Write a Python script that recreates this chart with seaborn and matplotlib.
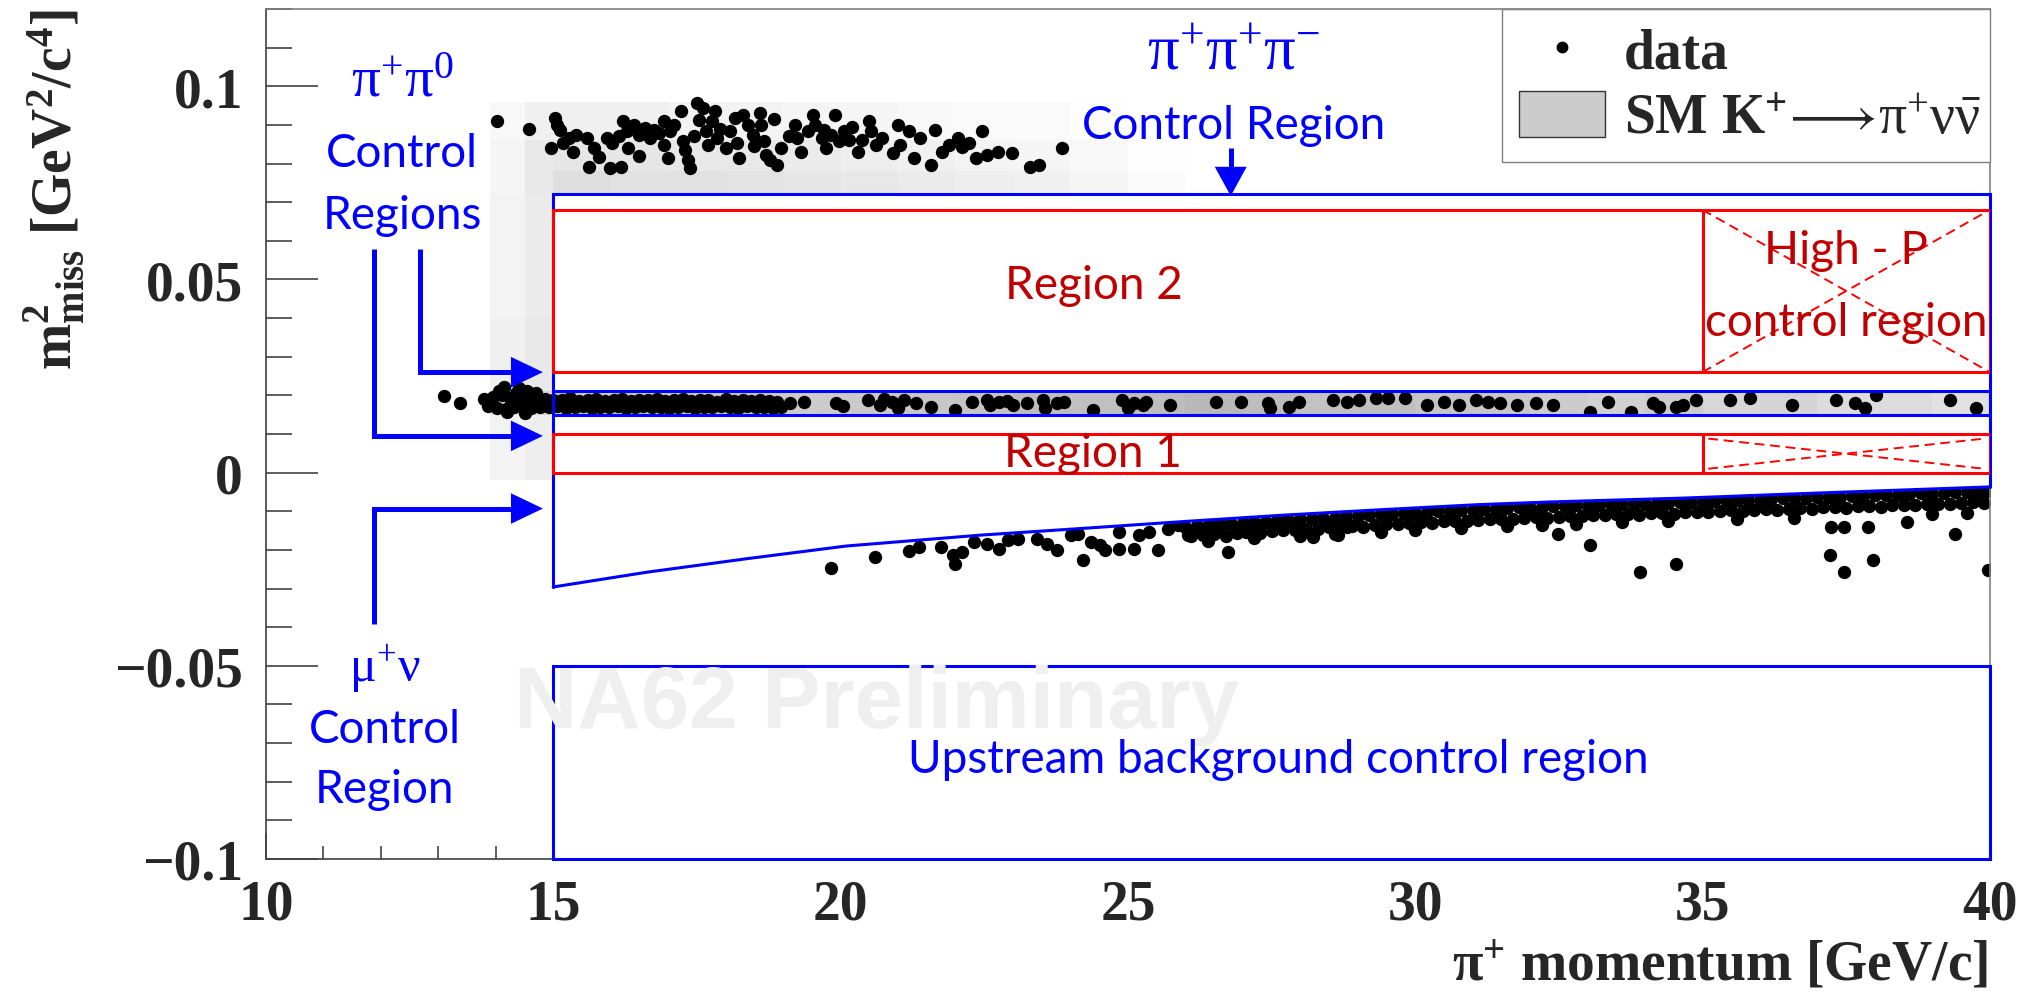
import numpy as np
import pandas as pd
import matplotlib
matplotlib.use("Agg")
import matplotlib.pyplot as plt
import seaborn as sns
from matplotlib.lines import Line2D
from matplotlib.patches import Patch, Rectangle
from matplotlib.font_manager import FontProperties
from matplotlib.ticker import MultipleLocator

# ------------------------------------------------------------------ data
# K+ -> pi+ pi+ pi- like events (p [GeV/c], m2miss [GeV^2/c^4])
ppp_events = np.array([
    [14.02, 0.0909], [14.58, 0.0890], [15.03, 0.0919], [15.07, 0.0900], [15.11, 0.0887],
    [14.96, 0.0841], [15.17, 0.0852], [15.28, 0.0865], [15.40, 0.0874], [15.59, 0.0865],
    [15.71, 0.0839], [15.79, 0.0818], [15.63, 0.0792], [15.98, 0.0788], [16.18, 0.0792],
    [15.94, 0.0865], [16.02, 0.0852], [16.14, 0.0870], [16.22, 0.0909], [16.29, 0.0883],
    [16.41, 0.0900], [16.49, 0.0874], [16.60, 0.0891], [16.68, 0.0865], [16.76, 0.0887],
    [16.84, 0.0878], [16.92, 0.0909], [16.92, 0.0848], [17.03, 0.0883], [17.11, 0.0900],
    [17.23, 0.0935], [17.26, 0.0857], [17.30, 0.0835], [17.34, 0.0809], [17.38, 0.0788],
    [17.50, 0.0956], [17.54, 0.0913], [17.61, 0.0943], [17.65, 0.0883], [17.69, 0.0848],
    [17.77, 0.0909], [17.81, 0.0935], [17.85, 0.0865], [18.00, 0.0839], [18.08, 0.0883],
    [18.16, 0.0917], [18.20, 0.0852], [18.24, 0.0814], [18.31, 0.0926], [18.39, 0.0900],
    [18.47, 0.0874], [18.59, 0.0930], [18.62, 0.0900], [18.66, 0.0857], [18.70, 0.0822],
    [18.78, 0.0809], [18.90, 0.0796], [18.97, 0.0839], [19.21, 0.0900], [19.25, 0.0865],
    [19.32, 0.0831], [19.44, 0.0883], [19.52, 0.0926], [19.56, 0.0900], [19.67, 0.0865],
    [19.71, 0.0887], [19.83, 0.0874], [19.91, 0.0926], [19.98, 0.0857], [20.06, 0.0883],
    [20.14, 0.0861], [20.30, 0.0831], [20.37, 0.0861], [20.49, 0.0909], [20.53, 0.0883],
    [20.61, 0.0848], [20.72, 0.0865], [20.92, 0.0827], [21.03, 0.0848], [21.19, 0.0883],
    [21.27, 0.0814], [21.38, 0.0865], [21.58, 0.0796], [21.65, 0.0887], [21.77, 0.0831],
    [21.89, 0.0848], [22.04, 0.0865], [22.12, 0.0844], [22.24, 0.0852], [22.35, 0.0814],
    [22.47, 0.0883], [22.55, 0.0822], [22.74, 0.0831], [22.98, 0.0827], [23.30, 0.0790],
    [23.45, 0.0796], [23.85, 0.0840], [16.50, 0.0820], [17.00, 0.0815], [17.90, 0.0890],
    [18.50, 0.0845], [19.10, 0.0870], [16.30, 0.0840], [17.45, 0.0870], [18.85, 0.0915],
    [20.20, 0.0895], [21.00, 0.0900], [15.35, 0.0830], [19.75, 0.0840],
])

# K+ -> pi+ pi0 like events: isolated / outlying ones
pp0_outliers = np.array([
    [13.10, 0.0197], [13.38, 0.0179], [14.05, 0.0210], [14.15, 0.0222], [14.35, 0.0207],
    [14.40, 0.0218], [14.55, 0.0212], [14.70, 0.0205], [14.20, 0.0158], [14.50, 0.0155],
])
# K+ -> pi+ pi0 dense band, upper row
pp0_dense_top = np.array([
    [13.80, 0.0190], [13.95, 0.0195], [14.10, 0.0200], [14.25, 0.0192], [14.40, 0.0188],
    [14.55, 0.0195], [14.70, 0.0186], [14.85, 0.0190], [15.00, 0.0189], [15.15, 0.0187],
    [15.30, 0.0192], [15.45, 0.0186], [15.60, 0.0189], [15.75, 0.0191], [15.90, 0.0185],
    [16.05, 0.0188], [16.20, 0.0190], [16.35, 0.0186], [16.50, 0.0189], [16.65, 0.0187],
    [16.80, 0.0191], [16.95, 0.0185], [17.10, 0.0188], [17.25, 0.0190], [17.40, 0.0186],
    [17.55, 0.0189], [17.70, 0.0187], [17.85, 0.0184], [18.00, 0.0190], [18.15, 0.0186],
    [18.30, 0.0188], [18.45, 0.0185], [18.60, 0.0189], [18.75, 0.0186], [18.90, 0.0184],
])
# K+ -> pi+ pi0 dense band, lower row
pp0_dense_low = np.array([
    [13.87, 0.0172], [14.02, 0.0168], [14.17, 0.0165], [14.32, 0.0170], [14.47, 0.0174],
    [14.62, 0.0166], [14.77, 0.0171], [14.92, 0.0169], [15.07, 0.0172], [15.22, 0.0168],
    [15.37, 0.0170], [15.52, 0.0173], [15.67, 0.0167], [15.82, 0.0171], [15.97, 0.0169],
    [16.12, 0.0172], [16.27, 0.0168], [16.42, 0.0170], [16.57, 0.0173], [16.72, 0.0169],
    [16.87, 0.0171], [17.02, 0.0167], [17.17, 0.0170], [17.32, 0.0172], [17.47, 0.0168],
    [17.62, 0.0171], [17.77, 0.0169], [17.92, 0.0173], [18.07, 0.0170], [18.22, 0.0167],
    [18.37, 0.0172], [18.52, 0.0169], [18.67, 0.0171], [18.82, 0.0168], [18.97, 0.0170],
])
# K+ -> pi+ pi0 band, sparse part
pp0_sparse = np.array([
    [19.12, 0.0180], [19.37, 0.0183], [19.92, 0.0179], [20.04, 0.0172], [20.47, 0.0187],
    [20.68, 0.0174], [20.75, 0.0190], [20.89, 0.0183], [21.00, 0.0168], [21.10, 0.0187],
    [21.31, 0.0179], [21.57, 0.0170], [21.99, 0.0162], [22.28, 0.0183], [22.54, 0.0187],
    [22.60, 0.0176], [22.75, 0.0183], [22.89, 0.0186], [23.00, 0.0174], [23.25, 0.0179],
    [23.52, 0.0188], [23.55, 0.0166], [23.76, 0.0179], [23.89, 0.0183], [24.39, 0.0162],
    [24.90, 0.0187], [25.00, 0.0168], [25.11, 0.0179], [25.27, 0.0176], [25.32, 0.0183],
    [25.74, 0.0174], [26.54, 0.0183], [26.96, 0.0183], [27.43, 0.0179], [27.47, 0.0166],
    [27.81, 0.0170], [27.97, 0.0183], [28.57, 0.0187], [28.82, 0.0183], [29.03, 0.0187],
    [29.32, 0.0192], [29.53, 0.0192], [29.83, 0.0192], [30.21, 0.0174], [30.50, 0.0183],
    [30.76, 0.0174], [31.05, 0.0187], [31.26, 0.0183], [31.47, 0.0179], [31.77, 0.0174],
    [32.11, 0.0179], [32.40, 0.0174], [33.04, 0.0157], [33.36, 0.0183], [33.76, 0.0157],
    [34.14, 0.0179], [34.25, 0.0170], [34.54, 0.0170], [34.66, 0.0174], [34.89, 0.0187],
    [35.47, 0.0187], [35.82, 0.0192], [36.55, 0.0174], [37.33, 0.0187], [37.65, 0.0179],
    [37.82, 0.0166], [38.02, 0.0200], [39.30, 0.0187], [39.76, 0.0166],
])

# K+ -> mu+ nu like events: sparse part at low momentum and outliers
mnu_sparse = np.array([
    [19.84, -0.0247], [20.60, -0.0219], [21.19, -0.0204], [21.36, -0.0193], [21.74, -0.0193],
    [21.95, -0.0214], [21.99, -0.0236], [22.11, -0.0206], [22.33, -0.0180], [22.54, -0.0184],
    [22.75, -0.0197], [22.92, -0.0175], [23.08, -0.0171], [23.42, -0.0171], [23.59, -0.0184],
    [23.76, -0.0201], [24.01, -0.0162], [24.14, -0.0158], [24.22, -0.0227], [24.35, -0.0180],
    [24.52, -0.0188], [24.60, -0.0201], [24.85, -0.0197], [24.85, -0.0154], [25.11, -0.0197],
    [25.19, -0.0162], [25.36, -0.0154], [25.53, -0.0201], [25.70, -0.0145], [25.87, -0.0136],
    [26.04, -0.0162], [26.29, -0.0154], [26.46, -0.0136], [26.63, -0.0141], [26.75, -0.0206],
    [26.88, -0.0145], [27.05, -0.0154], [27.30, -0.0136], [27.55, -0.0145], [27.72, -0.0128],
    [27.97, -0.0136], [28.23, -0.0167], [28.48, -0.0136], [28.65, -0.0162], [28.82, -0.0141],
    [32.49, -0.0158], [33.04, -0.0188], [33.91, -0.0257], [34.54, -0.0236], [37.21, -0.0214],
    [37.47, -0.0257], [37.97, -0.0227], [39.39, -0.0158], [39.97, -0.0253],
])
# K+ -> mu+ nu dense band, upper row (just below the kinematic limit)
mnu_dense_top = np.array([
    [26.0, -0.0140], [26.2, -0.0137], [26.4, -0.0138], [26.6, -0.0134], [26.8, -0.0133],
    [27.0, -0.0131], [27.2, -0.0128], [27.4, -0.0129], [27.6, -0.0125], [27.8, -0.0124],
    [28.0, -0.0121], [28.2, -0.0120], [28.4, -0.0118], [28.6, -0.0117], [28.8, -0.0113],
    [29.0, -0.0112], [29.2, -0.0111], [29.4, -0.0108], [29.6, -0.0107], [29.8, -0.0104],
    [30.0, -0.0104], [30.2, -0.0102], [30.4, -0.0099], [30.6, -0.0099], [30.8, -0.0096],
    [31.0, -0.0097], [31.2, -0.0094], [31.4, -0.0093], [31.6, -0.0092], [31.8, -0.0090],
    [32.0, -0.0091], [32.2, -0.0088], [32.4, -0.0087], [32.6, -0.0086], [32.8, -0.0085],
    [33.0, -0.0086], [33.2, -0.0083], [33.4, -0.0082], [33.6, -0.0081], [33.8, -0.0082],
    [34.0, -0.0080], [34.2, -0.0078], [34.4, -0.0079], [34.6, -0.0076], [34.8, -0.0075],
    [35.0, -0.0077], [35.2, -0.0074], [35.4, -0.0072], [35.6, -0.0071], [35.8, -0.0072],
    [36.0, -0.0070], [36.2, -0.0068], [36.4, -0.0067], [36.6, -0.0066], [36.8, -0.0067],
    [37.0, -0.0064], [37.2, -0.0063], [37.4, -0.0062], [37.6, -0.0060], [37.8, -0.0061],
    [38.0, -0.0059], [38.2, -0.0057], [38.4, -0.0057], [38.6, -0.0055], [38.8, -0.0054],
    [39.0, -0.0055], [39.2, -0.0052], [39.4, -0.0051], [39.6, -0.0050], [39.8, -0.0049],
    [39.95, -0.0048],
])
# K+ -> mu+ nu dense band, lower row
mnu_dense_low = np.array([
    [26.1, -0.0165], [26.3, -0.0162], [26.5, -0.0160], [26.7, -0.0163], [26.9, -0.0157],
    [27.1, -0.0154], [27.3, -0.0156], [27.5, -0.0151], [27.7, -0.0149], [27.9, -0.0148],
    [28.1, -0.0145], [28.3, -0.0147], [28.5, -0.0142], [28.7, -0.0141], [28.9, -0.0138],
    [29.1, -0.0140], [29.3, -0.0136], [29.5, -0.0133], [29.7, -0.0134], [29.9, -0.0131],
    [30.1, -0.0129], [30.3, -0.0130], [30.5, -0.0126], [30.7, -0.0124], [30.9, -0.0126],
    [31.1, -0.0122], [31.3, -0.0121], [31.5, -0.0119], [31.7, -0.0120], [31.9, -0.0117],
    [32.1, -0.0116], [32.3, -0.0118], [32.5, -0.0114], [32.7, -0.0112], [32.9, -0.0113],
    [33.1, -0.0110], [33.3, -0.0111], [33.5, -0.0108], [33.7, -0.0107], [33.9, -0.0109],
    [34.1, -0.0105], [34.3, -0.0104], [34.5, -0.0106], [34.7, -0.0102], [34.9, -0.0101],
    [35.1, -0.0103], [35.3, -0.0099], [35.5, -0.0098], [35.7, -0.0100], [35.9, -0.0096],
    [36.1, -0.0095], [36.3, -0.0097], [36.5, -0.0093], [36.7, -0.0092], [36.9, -0.0094],
    [37.1, -0.0090], [37.3, -0.0089], [37.5, -0.0091], [37.7, -0.0087], [37.9, -0.0086],
    [38.1, -0.0088], [38.3, -0.0084], [38.5, -0.0083], [38.7, -0.0085], [38.9, -0.0081],
    [39.1, -0.0080], [39.3, -0.0082], [39.5, -0.0078], [39.7, -0.0077], [39.9, -0.0079],
])
# K+ -> mu+ nu band, lower tail
mnu_tail = np.array([
    [26.4, -0.0178], [27.2, -0.0170], [28.0, -0.0163], [28.6, -0.0159], [29.4, -0.0153],
    [30.0, -0.0148], [30.8, -0.0143], [31.6, -0.0138], [32.2, -0.0135], [32.8, -0.0132],
    [33.6, -0.0129], [34.4, -0.0125], [35.6, -0.0121], [36.6, -0.0117], [37.24, -0.0141],
    [37.47, -0.0141], [37.88, -0.0141], [38.55, -0.0128], [39.0, -0.0108], [39.6, -0.0105],
])

# mu+ nu kinematic boundary (lower edge of the blinded box)
curve_x = [15.0, 16.62, 18.36, 20.10, 22.42, 24.35, 26.04, 27.72, 29.41, 31.09,
           32.34, 34.66, 36.98, 40.0]
curve_y = [-0.0296, -0.0258, -0.0223, -0.0190, -0.0162, -0.0143, -0.0126, -0.0110,
           -0.0096, -0.0083, -0.0076, -0.0066, -0.0053, -0.0037]

# SM K+ -> pi+ nu nubar expectation, grey lightness per bin (1 = white)
band_edges_x = list(range(15, 41))
band_light = [0.80, 0.78, 0.78, 0.79, 0.80, 0.79, 0.78, 0.77, 0.74, 0.75, 0.74, 0.72,
              0.74, 0.76, 0.75, 0.77, 0.78, 0.80, 0.82, 0.80, 0.84, 0.83, 0.86, 0.86, 0.88]
upper_edges_x = list(range(15, 27))
upper_edges_y = [0.072, 0.078, 0.086, 0.096]
upper_light_low = [0.87, 0.88, 0.88, 0.89, 0.90, 0.91, 0.92, 0.93, 0.94, 0.96, 0.98]
upper_light_mid = [0.90, 0.90, 0.91, 0.91, 0.92, 0.93, 0.94, 0.95, 0.96, 0.97, 0.99]
upper_light_top = [0.94, 0.94, 0.95, 0.95, 0.96, 0.96, 0.97, 0.98, 0.98, 0.99, 1.00]
left_edges_x = [13.9, 14.5, 15.0]
left_edges_y = [-0.002, 0.015, 0.021, 0.040, 0.060, 0.072, 0.086, 0.096]
left_light_outer = [0.95, 0.90, 0.94, 0.95, 0.95, 0.96, 0.97]
left_light_inner = [0.93, 0.85, 0.91, 0.92, 0.92, 0.91, 0.94]

# region definitions
P_MIN, P_HIGH, P_MAX = 15.0, 35.0, 40.0
REGION1 = (0.0, 0.01)
REGION2 = (0.026, 0.068)
PIPI0 = (0.015, 0.021)
K3PI_LOW = 0.072
UPSTREAM = (-0.1, -0.05)
R1_CROSS_X = (35.1, 39.9)
R1_CROSS_Y = (0.0088, 0.0010)

# ticks
x_ticks = [10, 15, 20, 25, 30, 35, 40]
x_ticklabels = ["10", "15", "20", "25", "30", "35", "40"]
y_ticks = [-0.1, -0.05, 0.0, 0.05, 0.1]
y_ticklabels = ["\u22120.1", "\u22120.05", "0", "0.05", "0.1"]

# annotation arrows
arrow_shaft_x = [12.68, 11.88, 11.88]
arrow_start_y = [0.058, 0.058, -0.0393]
arrow_y = [0.026, 0.0095, -0.0093]
ARROW_BASE, ARROW_TIP = 14.27, 14.82
K3PI_ARROW_X = 26.79
K3PI_ARROW_Y = (0.0840, 0.0790, 0.0716)

# ------------------------------------------------------------------ style
sns.set_style("ticks")
plt.rcParams.update({
    "font.family": ["Liberation Serif", "DejaVu Sans"],
    "mathtext.fontset": "custom",
    "mathtext.rm": "Liberation Serif",
    "mathtext.it": "Liberation Serif:italic",
    "mathtext.bf": "Liberation Serif:bold",
    "mathtext.default": "rm",
    "mathtext.fallback": "stix",
})

BLUE = "#0000ff"
RED = "#ff0000"
DARKRED = "#c00000"
LW = 2.2
SANS = ["Lato", "DejaVu Sans"]
TXT = 33

fig = plt.figure(figsize=(20.44, 9.95), dpi=100)
ax = fig.add_axes([0.1301, 0.1357, 0.8434, 0.8543])
ax.set_xlim(10, 40)
ax.set_ylim(-0.1, 0.12)

# grey SM expectation
ax.pcolormesh(band_edges_x, list(PIPI0), np.array([band_light]), cmap="gray",
              vmin=0, vmax=1, shading="flat", zorder=1)
ax.pcolormesh(upper_edges_x, upper_edges_y,
              np.array([upper_light_low, upper_light_mid, upper_light_top]),
              cmap="gray", vmin=0, vmax=1, shading="flat", zorder=1)
ax.pcolormesh(left_edges_x, left_edges_y,
              np.column_stack([left_light_outer, left_light_inner]),
              cmap="gray", vmin=0, vmax=1, shading="flat", zorder=1)

# data points
pts = np.vstack([ppp_events, pp0_outliers, pp0_dense_top, pp0_dense_low, pp0_sparse,
                 mnu_sparse, mnu_dense_top, mnu_dense_low, mnu_tail])
df = pd.DataFrame({"p": pts[:, 0], "m2": pts[:, 1]})
sns.scatterplot(data=df, x="p", y="m2", ax=ax, color="black", s=92, linewidth=0,
                legend=False, zorder=2)
ax.set_xlabel("")
ax.set_ylabel("")

# blinded regions (white)
ax.fill_between([P_MIN, P_MAX], PIPI0[1], K3PI_LOW, color="white", lw=0, zorder=2.2)
ax.fill_between(curve_x, curve_y, PIPI0[0], color="white", lw=0, zorder=2.2)
ax.add_patch(Rectangle((P_MIN, UPSTREAM[0]), P_MAX - P_MIN, UPSTREAM[1] - UPSTREAM[0],
                       facecolor="white", edgecolor="none", zorder=2.6))

# blue control region outlines
blue_kw = dict(color=BLUE, lw=LW, zorder=3, clip_on=False, solid_joinstyle="miter")
ax.plot([P_MIN, P_MIN, P_MAX, P_MAX], [curve_y[0], K3PI_LOW, K3PI_LOW, curve_y[-1]], **blue_kw)
ax.plot(curve_x, curve_y, **blue_kw)
for yv in PIPI0:
    ax.plot([P_MIN, P_MAX], [yv, yv], **blue_kw)
ax.plot([P_MIN, P_MIN, P_MAX, P_MAX, P_MIN],
        [UPSTREAM[1], UPSTREAM[0], UPSTREAM[0], UPSTREAM[1], UPSTREAM[1]], **blue_kw)

# red signal regions
red_kw = dict(color=RED, lw=LW, zorder=3.1, solid_joinstyle="miter")
for lo, hi in (REGION1, REGION2):
    ax.plot([P_MIN, P_MAX, P_MAX, P_MIN, P_MIN], [lo, lo, hi, hi, lo], **red_kw)
    ax.plot([P_HIGH, P_HIGH], [lo, hi], **red_kw)
dash_kw = dict(color=RED, lw=1.4, ls=(0, (5, 3)), zorder=3.1)
ax.plot([P_HIGH, P_MAX], [REGION2[1], REGION2[0]], **dash_kw)
ax.plot([P_HIGH, P_MAX], [REGION2[0], REGION2[1]], **dash_kw)
ax.plot(list(R1_CROSS_X), list(R1_CROSS_Y), **dash_kw)
ax.plot(list(R1_CROSS_X), list(R1_CROSS_Y[::-1]), **dash_kw)

# arrows
head_kw = dict(arrowstyle="-|>,head_length=2.3,head_width=1.1", mutation_scale=10,
               fc=BLUE, ec=BLUE, lw=0, shrinkA=0, shrinkB=0)
for sx, sy, ay in zip(arrow_shaft_x, arrow_start_y, arrow_y):
    ax.plot([sx, sx, ARROW_BASE], [sy, ay, ay], color=BLUE, lw=3.6, zorder=3,
            solid_capstyle="butt", solid_joinstyle="miter")
    ax.annotate("", xy=(ARROW_TIP, ay), xytext=(ARROW_BASE - 0.05, ay),
                arrowprops=head_kw, zorder=3)
ax.plot([K3PI_ARROW_X, K3PI_ARROW_X], [K3PI_ARROW_Y[0], K3PI_ARROW_Y[1] - 0.0005],
        color=BLUE, lw=3.6, zorder=3, solid_capstyle="butt")
ax.annotate("", xy=(K3PI_ARROW_X, K3PI_ARROW_Y[2]), xytext=(K3PI_ARROW_X, K3PI_ARROW_Y[1]),
            arrowprops=dict(head_kw, arrowstyle="-|>,head_length=2.1,head_width=1.15"),
            zorder=3)

# texts
def label(x, y, s, color=BLUE, family=SANS, size=TXT, **kw):
    ax.text(x, y, s, color=color, family=family, fontsize=size, ha="center",
            va="baseline", zorder=4, **kw)

label(12.37, 0.0977, r"$\pi^{+}\pi^{0}$", size=41)
label(12.37, 0.0793, "Control")
label(12.37, 0.0632, "Regions")
label(12.07, -0.0539, r"$\mu^{+}\nu$", size=36)
label(12.07, -0.0697, "Control")
label(12.07, -0.0853, "Region")
label(26.83, 0.1047, r"$\pi^{+}\pi^{+}\pi^{-}$", size=45)
label(26.84, 0.0866, "Control Region")
label(24.40, 0.0451, "Region 2", color=DARKRED)
label(24.40, 0.0016, "Region 1", color=DARKRED)
label(37.50, 0.0542, "High - P", color=DARKRED)
label(37.50, 0.0355, "control region", color=DARKRED)
label(27.61, -0.0775, "Upstream background control region")
ax.text(20.63, -0.0658, "NA62 Preliminary", family="Liberation Sans", weight="bold",
        fontsize=63, color="#efefef", ha="center", va="baseline", zorder=3.5)

# axes, ticks
ax.set_xticks(x_ticks, labels=x_ticklabels)
ax.set_yticks(y_ticks, labels=y_ticklabels)
ax.xaxis.set_minor_locator(MultipleLocator(1))
ax.yaxis.set_minor_locator(MultipleLocator(0.01))
ax.tick_params(which="both", direction="in", top=False, right=False, color="#333333", width=1.1)
ax.tick_params(axis="y", which="major", length=37.4, pad=16.5)
ax.tick_params(axis="y", which="minor", length=18.7)
ax.tick_params(axis="x", which="major", length=18.7, pad=13.7)
ax.tick_params(axis="x", which="minor", length=9.4)
tick_fp = FontProperties(family="Liberation Serif", weight="bold", size=40)
for lab in ax.get_xticklabels() + ax.get_yticklabels():
    lab.set_fontproperties(tick_fp)
for side in ("left", "bottom"):
    ax.spines[side].set_color("#404040")
    ax.spines[side].set_linewidth(1.2)
for side in ("top", "right"):
    ax.spines[side].set_visible(True)
    ax.spines[side].set_color("#7f7f7f")
    ax.spines[side].set_linewidth(1.2)

fig.text(54 / 2044, 1 - 10 / 995,
         r"$\mathbf{m^{2}_{miss}}$ [GeV$^{\mathbf{2}}$/c$^{\mathbf{4}}$]",
         rotation=90, ha="center", va="top", fontsize=40, weight="bold",
         family="Liberation Serif")
fig.text(1988 / 2044, 14 / 995, r"$\mathbf{\pi^{+}}$ momentum [GeV/c]", ha="right",
         va="baseline", fontsize=40, weight="bold", family="Liberation Serif")

# legend
handles = [Line2D([0], [0], marker="o", ls="none", color="black", markersize=7.5),
           Patch(facecolor="#cccccc", edgecolor="#333333", linewidth=1.0)]
labels = ["data", r"SM K$^{\mathbf{+}}\!\longrightarrow\!\pi^{+}\nu\bar{\nu}$"]
leg = ax.legend(handles, labels, loc="upper left", bbox_to_anchor=(0.717, 0.833, 0.283, 0.167),
                mode="expand", borderaxespad=0,
                prop=FontProperties(family="Liberation Serif", weight="bold", size=40),
                frameon=True, fancybox=False, edgecolor="#808080", framealpha=1,
                borderpad=0.3, labelspacing=0.2, handlelength=1.55, handleheight=0.9,
                handletextpad=0.35)
leg.get_frame().set_linewidth(1.0)
leg.set_zorder(6)

fig.savefig("out.png", dpi=100)
